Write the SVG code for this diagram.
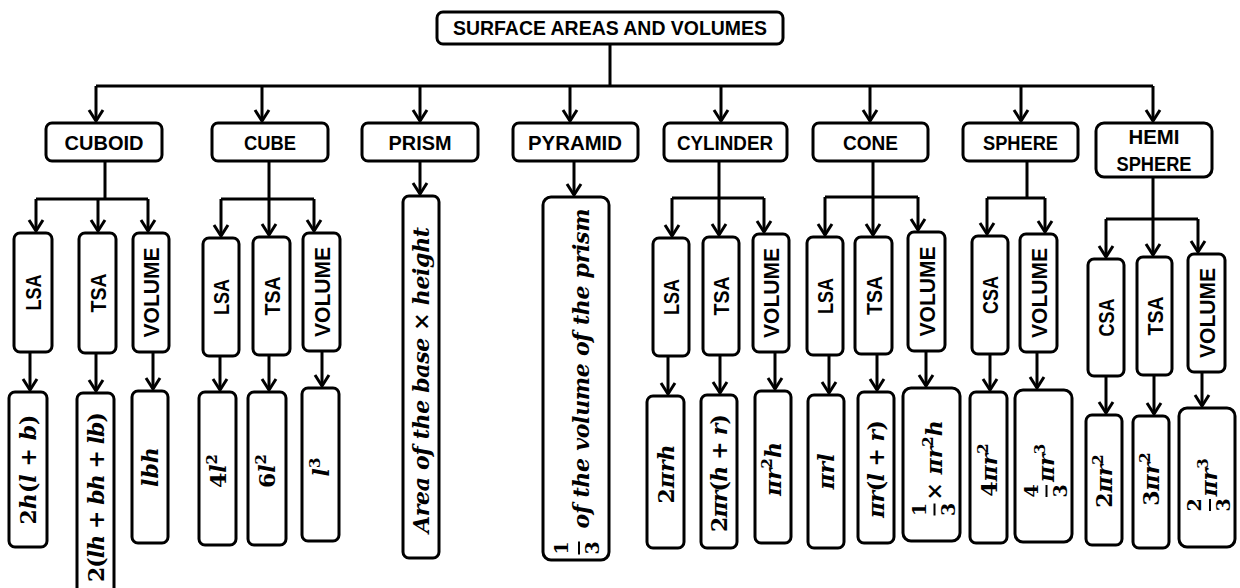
<svg xmlns="http://www.w3.org/2000/svg" width="1240" height="588" viewBox="0 0 1240 588">
<style>
.box{fill:#fff;stroke:#000;stroke-width:3}
.ln{fill:none;stroke:#000;stroke-width:3}
.t{font-family:"Liberation Sans",Arial,sans-serif;font-weight:bold;font-size:20px;fill:#000}
.r{font-family:"Liberation Sans",Arial,sans-serif;font-weight:bold;font-size:22px;fill:#000}
.m{font-family:"DejaVu Serif","Liberation Serif",serif;font-weight:bold;font-style:italic;font-size:22px;fill:#000}
.u{font-style:normal}
.d{font-family:"DejaVu Serif","Liberation Serif",serif;font-weight:bold;font-size:19px;fill:#000}
.bar{stroke:#000;stroke-width:2}
</style>
<defs>
<marker id="ah" markerUnits="userSpaceOnUse" viewBox="-14 -10 18 20" markerWidth="18" markerHeight="20" refX="0" refY="0" orient="auto">
<path d="M-11,-7 L0,0 L-11,7" fill="none" stroke="#000" stroke-width="3"/>
</marker>
</defs>
<rect width="1240" height="588" fill="#fff"/>

<g id="connectors" class="ln">
<path d="M610,44 V86 M96,86 H1153"/>
<path d="M105,161 V199 M269,161 V199 M719,161 V198 M873,161 V197 M1027,160 V198 M1153,177 V219"/>
<path d="M36,199 H148 M221,199 H314 M672,198 H764 M825,197 H918 M987,198 H1045 M1106,219 H1198"/>
<g marker-end="url(#ah)">
<path d="M96,86 V121"/><path d="M262,86 V121"/><path d="M420,86 V121"/><path d="M570,86 V121"/>
<path d="M721,86 V121"/><path d="M870,86 V121"/><path d="M1021,86 V121"/><path d="M1153,86 V121"/>
<path d="M36,199 V231"/><path d="M98,199 V231"/><path d="M148,199 V231"/>
<path d="M221,199 V236"/><path d="M269,199 V235"/><path d="M314,199 V231"/>
<path d="M420,161 V194"/><path d="M574,161 V195"/>
<path d="M672,198 V236"/><path d="M719,198 V235"/><path d="M764,198 V232"/>
<path d="M825,197 V235"/><path d="M873,197 V235"/><path d="M918,197 V230"/>
<path d="M987,198 V234"/><path d="M1045,198 V232"/>
<path d="M1106,219 V257"/><path d="M1153,219 V255"/><path d="M1198,219 V252"/>
<path d="M30,353 V390"/><path d="M96,354 V391"/><path d="M153,353 V389"/>
<path d="M220,357 V390"/><path d="M269,356 V390"/><path d="M322,352 V386"/>
<path d="M668,357 V394"/><path d="M720,356 V393"/><path d="M775,353 V389"/>
<path d="M829,356 V393"/><path d="M877,355 V390"/><path d="M926,352 V386"/>
<path d="M990,355 V390"/><path d="M1037,353 V388"/>
<path d="M1106,377 V413"/><path d="M1154,376 V414"/><path d="M1202,373 V406"/>
</g>
</g>

<g id="title"><rect class="box" x="437" y="12" width="346" height="32" rx="6"/><text class="t" x="610" y="35" text-anchor="middle" textLength="314" lengthAdjust="spacingAndGlyphs">SURFACE AREAS AND VOLUMES</text></g>

<g id="cuboid"><rect class="box" x="46" y="123" width="116" height="38" rx="6"/><text class="t" x="104" y="149.5" text-anchor="middle" textLength="79" lengthAdjust="spacingAndGlyphs">CUBOID</text></g>
<g id="cube"><rect class="box" x="212" y="123" width="116" height="38" rx="6"/><text class="t" x="270" y="149.5" text-anchor="middle" textLength="52" lengthAdjust="spacingAndGlyphs">CUBE</text></g>
<g id="prism"><rect class="box" x="362" y="123" width="116" height="38" rx="6"/><text class="t" x="420" y="149.5" text-anchor="middle" textLength="63" lengthAdjust="spacingAndGlyphs">PRISM</text></g>
<g id="pyramid"><rect class="box" x="513" y="123" width="125" height="38" rx="6"/><text class="t" x="575" y="149.5" text-anchor="middle" textLength="94" lengthAdjust="spacingAndGlyphs">PYRAMID</text></g>
<g id="cylinder"><rect class="box" x="664" y="123" width="123" height="38" rx="6"/><text class="t" x="725" y="149.5" text-anchor="middle" textLength="96" lengthAdjust="spacingAndGlyphs">CYLINDER</text></g>
<g id="cone"><rect class="box" x="813" y="123" width="115" height="38" rx="6"/><text class="t" x="870.5" y="149.5" text-anchor="middle" textLength="55" lengthAdjust="spacingAndGlyphs">CONE</text></g>
<g id="sphere"><rect class="box" x="963" y="123" width="115" height="38" rx="6"/><text class="t" x="1020.5" y="149.5" text-anchor="middle" textLength="75" lengthAdjust="spacingAndGlyphs">SPHERE</text></g>
<g id="hemisphere"><rect class="box" x="1096" y="123" width="116" height="54" rx="8"/><text class="t" x="1154" y="144" text-anchor="middle" textLength="51" lengthAdjust="spacingAndGlyphs">HEMI</text><text class="t" x="1154" y="171" text-anchor="middle" textLength="75" lengthAdjust="spacingAndGlyphs">SPHERE</text></g>

<!-- cuboid sub-nodes -->
<g id="cuboid-lsa"><rect class="box" x="14" y="233" width="38" height="119" rx="6"/><text class="r" transform="translate(33,292.5) rotate(-90)" y="8" text-anchor="middle" textLength="36" lengthAdjust="spacingAndGlyphs">LSA</text></g>
<g id="cuboid-tsa"><rect class="box" x="79" y="233" width="37" height="120" rx="6"/><text class="r" transform="translate(97.5,293) rotate(-90)" y="8" text-anchor="middle" textLength="39" lengthAdjust="spacingAndGlyphs">TSA</text></g>
<g id="cuboid-volume"><rect class="box" x="133" y="233" width="36" height="119" rx="6"/><text class="r" transform="translate(151,292.5) rotate(-90)" y="8" text-anchor="middle" textLength="90" lengthAdjust="spacingAndGlyphs">VOLUME</text></g>
<g id="cuboid-lsa-f"><rect class="box" x="9" y="392" width="38" height="155" rx="6"/><text class="m" transform="translate(28,469.5) rotate(-90)" y="8" text-anchor="middle" textLength="110"><tspan class="u">2</tspan>h<tspan class="u">(</tspan>l<tspan class="u"> + </tspan>b<tspan class="u">)</tspan></text></g>
<g id="cuboid-tsa-f"><rect class="box" x="77" y="393" width="37" height="220" rx="6"/><text class="m" transform="translate(95.5,497) rotate(-90)" y="8" text-anchor="middle" textLength="170"><tspan class="u">2(</tspan>lh<tspan class="u"> + </tspan>bh<tspan class="u"> + </tspan>lb<tspan class="u">)</tspan></text></g>
<g id="cuboid-volume-f"><rect class="box" x="132" y="391" width="36" height="152" rx="6"/><text class="m" transform="translate(150,467) rotate(-90)" y="8" text-anchor="middle">lbh</text></g>

<!-- cube sub-nodes -->
<g id="cube-lsa"><rect class="box" x="203" y="238" width="36" height="118" rx="6"/><text class="r" transform="translate(221,297) rotate(-90)" y="8" text-anchor="middle" textLength="36" lengthAdjust="spacingAndGlyphs">LSA</text></g>
<g id="cube-tsa"><rect class="box" x="253" y="237" width="37" height="118" rx="6"/><text class="r" transform="translate(271.5,296) rotate(-90)" y="8" text-anchor="middle" textLength="39" lengthAdjust="spacingAndGlyphs">TSA</text></g>
<g id="cube-volume"><rect class="box" x="303" y="233" width="37" height="118" rx="6"/><text class="r" transform="translate(321.5,292) rotate(-90)" y="8" text-anchor="middle" textLength="90" lengthAdjust="spacingAndGlyphs">VOLUME</text></g>
<g id="cube-lsa-f"><rect class="box" x="199" y="392" width="37" height="153" rx="6"/><text class="m" transform="translate(217.5,471) rotate(-90)" y="8" text-anchor="middle"><tspan class="u">4</tspan>l<tspan class="u" dy="-9" font-size="15">2</tspan></text></g>
<g id="cube-tsa-f"><rect class="box" x="248" y="392" width="38" height="153" rx="6"/><text class="m" transform="translate(267,471) rotate(-90)" y="8" text-anchor="middle"><tspan class="u">6</tspan>l<tspan class="u" dy="-9" font-size="15">2</tspan></text></g>
<g id="cube-volume-f"><rect class="box" x="302" y="388" width="37" height="153" rx="6"/><text class="m" transform="translate(320.5,467) rotate(-90)" y="8" text-anchor="middle">l<tspan class="u" dy="-9" font-size="15">3</tspan></text></g>

<!-- prism / pyramid -->
<g id="prism-f"><rect class="box" x="403" y="196" width="36" height="362" rx="6"/><text class="m" transform="translate(421,380) rotate(-90)" y="8" text-anchor="middle" textLength="306">Area of the base <tspan class="u">×</tspan> height</text></g>
<g id="pyramid-f"><rect class="box" x="543" y="197" width="66" height="363" rx="8"/>
<g transform="translate(576,378.5) rotate(-90)">
<text class="d" x="-169.5" y="-8" text-anchor="middle">1</text>
<line class="bar" x1="-176" y1="3" x2="-163" y2="3"/>
<text class="d" x="-169.5" y="23" text-anchor="middle">3</text>
<text class="m" x="-150" y="13" textLength="320">of the volume of the prism</text>
</g></g>

<!-- cylinder sub-nodes -->
<g id="cylinder-lsa"><rect class="box" x="653" y="238" width="36" height="118" rx="6"/><text class="r" transform="translate(671,297) rotate(-90)" y="8" text-anchor="middle" textLength="36" lengthAdjust="spacingAndGlyphs">LSA</text></g>
<g id="cylinder-tsa"><rect class="box" x="703" y="237" width="36" height="118" rx="6"/><text class="r" transform="translate(721,296) rotate(-90)" y="8" text-anchor="middle" textLength="39" lengthAdjust="spacingAndGlyphs">TSA</text></g>
<g id="cylinder-volume"><rect class="box" x="753" y="234" width="36" height="118" rx="6"/><text class="r" transform="translate(771,293) rotate(-90)" y="8" text-anchor="middle" textLength="90" lengthAdjust="spacingAndGlyphs">VOLUME</text></g>
<g id="cylinder-lsa-f"><rect class="box" x="647" y="396" width="37" height="152" rx="6"/><text class="m" transform="translate(665.5,474) rotate(-90)" y="8" text-anchor="middle"><tspan class="u">2</tspan>πrh</text></g>
<g id="cylinder-tsa-f"><rect class="box" x="701" y="395" width="36" height="153" rx="6"/><text class="m" transform="translate(719,473) rotate(-90)" y="8" text-anchor="middle" textLength="118"><tspan class="u">2</tspan>πr<tspan class="u">(</tspan>h<tspan class="u"> + </tspan>r<tspan class="u">)</tspan></text></g>
<g id="cylinder-volume-f"><rect class="box" x="755" y="391" width="36" height="152" rx="6"/><text class="m" transform="translate(773,469) rotate(-90)" y="8" text-anchor="middle">πr<tspan class="u" dy="-9" font-size="15">2</tspan><tspan dy="9">h</tspan></text></g>

<!-- cone sub-nodes -->
<g id="cone-lsa"><rect class="box" x="807" y="237" width="36" height="118" rx="6"/><text class="r" transform="translate(825,296) rotate(-90)" y="8" text-anchor="middle" textLength="36" lengthAdjust="spacingAndGlyphs">LSA</text></g>
<g id="cone-tsa"><rect class="box" x="855" y="237" width="37" height="117" rx="6"/><text class="r" transform="translate(873.5,295.5) rotate(-90)" y="8" text-anchor="middle" textLength="39" lengthAdjust="spacingAndGlyphs">TSA</text></g>
<g id="cone-volume"><rect class="box" x="908" y="232" width="37" height="119" rx="6"/><text class="r" transform="translate(926.5,291.5) rotate(-90)" y="8" text-anchor="middle" textLength="90" lengthAdjust="spacingAndGlyphs">VOLUME</text></g>
<g id="cone-lsa-f"><rect class="box" x="808" y="395" width="36" height="153" rx="6"/><text class="m" transform="translate(826,471.5) rotate(-90)" y="8" text-anchor="middle">πrl</text></g>
<g id="cone-tsa-f"><rect class="box" x="858" y="392" width="36" height="151" rx="6"/><text class="m" transform="translate(876,469) rotate(-90)" y="8" text-anchor="middle" textLength="98">πr<tspan class="u">(</tspan>l<tspan class="u"> + </tspan>r<tspan class="u">)</tspan></text></g>
<g id="cone-volume-f"><rect class="box" x="903" y="388" width="57" height="153" rx="8"/>
<g transform="translate(931.5,464.5) rotate(-90)">
<text class="d" x="-45" y="-6" text-anchor="middle">1</text>
<line class="bar" x1="-51" y1="3" x2="-39" y2="3"/>
<text class="d" x="-45" y="23" text-anchor="middle">3</text>
<text class="m" x="-36" y="10"><tspan class="u">×</tspan> πr<tspan class="u" dy="-9" font-size="15">2</tspan><tspan dy="9">h</tspan></text>
</g></g>

<!-- sphere sub-nodes -->
<g id="sphere-csa"><rect class="box" x="972" y="236" width="36" height="118" rx="6"/><text class="r" transform="translate(990,295) rotate(-90)" y="8" text-anchor="middle" textLength="38" lengthAdjust="spacingAndGlyphs">CSA</text></g>
<g id="sphere-volume"><rect class="box" x="1020" y="234" width="37" height="118" rx="6"/><text class="r" transform="translate(1038.5,293) rotate(-90)" y="8" text-anchor="middle" textLength="90" lengthAdjust="spacingAndGlyphs">VOLUME</text></g>
<g id="sphere-csa-f"><rect class="box" x="970" y="392" width="37" height="151" rx="6"/><text class="m" transform="translate(988.5,470) rotate(-90)" y="8" text-anchor="middle"><tspan class="u">4</tspan>πr<tspan class="u" dy="-9" font-size="15">2</tspan></text></g>
<g id="sphere-volume-f"><rect class="box" x="1015" y="390" width="57" height="152" rx="8"/>
<g transform="translate(1043.5,466) rotate(-90)">
<text class="d" x="-25" y="-6" text-anchor="middle">4</text>
<line class="bar" x1="-31" y1="3" x2="-19" y2="3"/>
<text class="d" x="-25" y="23" text-anchor="middle">3</text>
<text class="m" x="-16" y="10">πr<tspan class="u" dy="-9" font-size="15">3</tspan></text>
</g></g>

<!-- hemisphere sub-nodes -->
<g id="hemi-csa"><rect class="box" x="1088" y="259" width="36" height="117" rx="6"/><text class="r" transform="translate(1106,317.5) rotate(-90)" y="8" text-anchor="middle" textLength="38" lengthAdjust="spacingAndGlyphs">CSA</text></g>
<g id="hemi-tsa"><rect class="box" x="1137" y="257" width="35" height="118" rx="6"/><text class="r" transform="translate(1154.5,316) rotate(-90)" y="8" text-anchor="middle" textLength="39" lengthAdjust="spacingAndGlyphs">TSA</text></g>
<g id="hemi-volume"><rect class="box" x="1188" y="254" width="37" height="118" rx="6"/><text class="r" transform="translate(1206.5,313) rotate(-90)" y="8" text-anchor="middle" textLength="90" lengthAdjust="spacingAndGlyphs">VOLUME</text></g>
<g id="hemi-csa-f"><rect class="box" x="1086" y="415" width="36" height="130" rx="6"/><text class="m" transform="translate(1104,481) rotate(-90)" y="8" text-anchor="middle"><tspan class="u">2</tspan>πr<tspan class="u" dy="-9" font-size="15">2</tspan></text></g>
<g id="hemi-tsa-f"><rect class="box" x="1133" y="416" width="36" height="132" rx="6"/><text class="m" transform="translate(1151,479) rotate(-90)" y="8" text-anchor="middle"><tspan class="u">3</tspan>πr<tspan class="u" dy="-9" font-size="15">2</tspan></text></g>
<g id="hemi-volume-f"><rect class="box" x="1179" y="408" width="56" height="139" rx="8"/>
<g transform="translate(1207,477.5) rotate(-90)">
<text class="d" x="-27.5" y="-6" text-anchor="middle">2</text>
<line class="bar" x1="-33.5" y1="3" x2="-21.5" y2="3"/>
<text class="d" x="-27.5" y="23" text-anchor="middle">3</text>
<text class="m" x="-19" y="10">πr<tspan class="u" dy="-9" font-size="15">3</tspan></text>
</g></g>
</svg>
